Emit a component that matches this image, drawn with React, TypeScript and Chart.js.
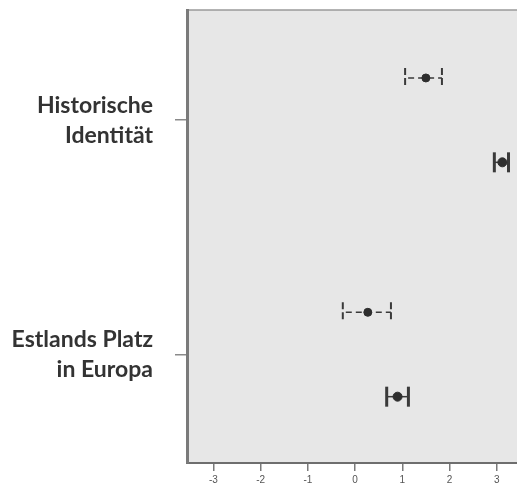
import React, { useEffect, useRef } from "react";
import { Chart, registerables } from "chart.js";

Chart.register(...registerables);

const categoryLabels: string[][] = [
  ["Historische", "Identität"],
  ["Estlands Platz", "in Europa"],
];

// Series A (dashed error bars), Series B (solid error bars)
const meanA = [1.5, 0.27];
const lowA = [1.06, -0.26];
const highA = [1.84, 0.76];

const meanB = [3.12, 0.9];
const lowB = [2.95, 0.67];
const highB = [3.25, 1.13];

const xTicks = [-3, -2, -1, 0, 1, 2, 3];

const OFFSET_A = -0.18;
const OFFSET_B = 0.18;

export default function App() {
  const ref = useRef<HTMLCanvasElement>(null);

  useEffect(() => {
    if (!ref.current) return;

    const bgPlugin = {
      id: "bgPlugin",
      beforeDraw(chart: any) {
        const { ctx, chartArea } = chart;
        ctx.save();
        ctx.fillStyle = "#e7e7e7";
        ctx.fillRect(chartArea.left, chartArea.top, chartArea.right - chartArea.left, chartArea.bottom - chartArea.top);
        ctx.strokeStyle = "#9a9a9a";
        ctx.lineWidth = 1.5;
        ctx.beginPath();
        ctx.moveTo(chartArea.left, chartArea.top);
        ctx.lineTo(chartArea.right, chartArea.top);
        ctx.stroke();
        ctx.restore();
      },
    };

    const errPlugin = {
      id: "errPlugin",
      beforeDatasetsDraw(chart: any) {
        const { ctx } = chart;
        const xs = chart.scales.x;
        const ys = chart.scales.y;
        const drawSeries = (low: number[], high: number[], offset: number, dashed: boolean) => {
          low.forEach((lo, i) => {
            const y = ys.getPixelForValue(i + offset);
            const xl = xs.getPixelForValue(lo);
            const xh = xs.getPixelForValue(high[i]);
            ctx.save();
            ctx.strokeStyle = "#3a3a3a";
            ctx.lineWidth = 1.5;
            if (dashed) ctx.setLineDash([6, 4]);
            ctx.beginPath();
            ctx.moveTo(xl + (dashed ? 3 : 0), y);
            ctx.lineTo(xh, y);
            ctx.stroke();
            ctx.lineWidth = dashed ? 2 : 3;
            if (dashed) ctx.setLineDash([7, 3]);
            else ctx.setLineDash([]);
            for (const x of [xl, xh]) {
              ctx.beginPath();
              ctx.moveTo(x, y - 10);
              ctx.lineTo(x, y + 10);
              ctx.stroke();
            }
            ctx.restore();
          });
        };
        drawSeries(lowA, highA, OFFSET_A, true);
        drawSeries(lowB, highB, OFFSET_B, false);
      },
    };

    const chart = new Chart(ref.current, {
      type: "scatter",
      data: {
        datasets: [
          {
            data: meanA.map((v, i) => ({ x: v, y: i + OFFSET_A })),
            backgroundColor: "#2e2e2e",
            borderColor: "#2e2e2e",
            pointRadius: 4,
          },
          {
            data: meanB.map((v, i) => ({ x: v, y: i + OFFSET_B })),
            backgroundColor: "#2e2e2e",
            borderColor: "#2e2e2e",
            pointRadius: 4.5,
          },
        ],
      },
      options: {
        animation: false,
        responsive: false,
        layout: { autoPadding: false, padding: { top: 10, right: 0, left: 0, bottom: 0 } },
        plugins: { legend: { display: false }, tooltip: { enabled: false } },
        scales: {
          x: {
            type: "linear",
            min: -3.56,
            max: 3.43,
            afterBuildTicks: (s: any) => {
              s.ticks = xTicks.map((v) => ({ value: v }));
            },
            afterFit: (s: any) => {
              s.height = 25;
              s.paddingLeft = 0;
              s.paddingRight = 0;
            },
            grid: { drawOnChartArea: false, drawTicks: true, tickLength: 8, color: "#7a7a7a", lineWidth: 1.5 },
            border: { display: true, color: "#6e6e6e", width: 2 },
            ticks: {
              color: "#555",
              font: { family: "Arial", size: 10 },
              padding: 3,
              maxRotation: 0,
              callback: (v: any) => String(v),
            },
          },
          y: {
            type: "linear",
            min: -0.47,
            max: 1.463,
            reverse: true,
            afterBuildTicks: (s: any) => {
              s.ticks = categoryLabels.map((_, i) => ({ value: i }));
            },
            afterFit: (s: any) => {
              s.width = 187;
              s.paddingTop = 0;
              s.paddingBottom = 0;
            },
            grid: { drawOnChartArea: false, drawTicks: true, tickLength: 12, color: "#8a8a8a", lineWidth: 1.5 },
            border: { display: true, color: "#7a7a7a", width: 3 },
            ticks: {
              color: "#333",
              font: { family: "Lato", size: 23, weight: "bold", lineHeight: 1.3 },
              padding: 22,
              callback: (v: any) => categoryLabels[v] ?? "",
            },
          },
        },
      },
      plugins: [bgPlugin, errPlugin],
    } as any);

    return () => chart.destroy();
  }, []);

  return (
    <div style={{ position: "absolute", left: 0, top: 0, width: 517, height: 488, background: "#fff", overflow: "hidden" }}>
      <canvas ref={ref} width={517} height={488} style={{ width: 517, height: 488 }} />
    </div>
  );
}
